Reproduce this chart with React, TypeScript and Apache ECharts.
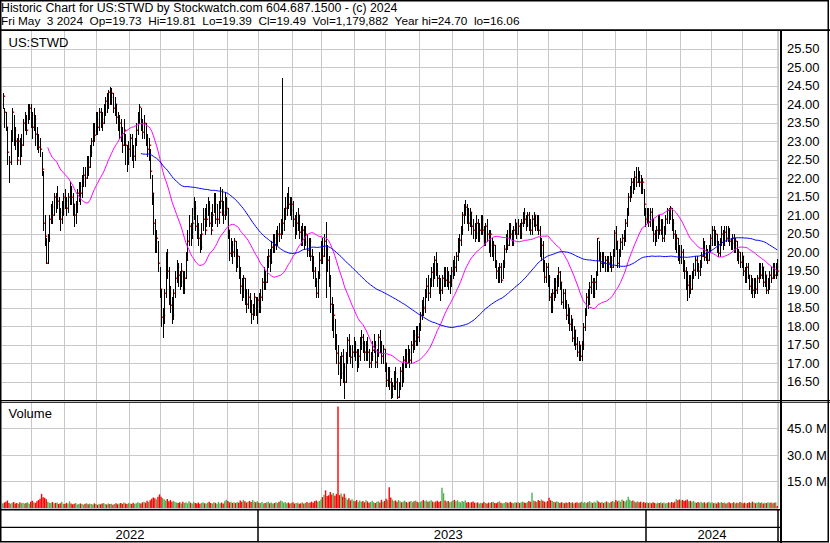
import React, { useEffect, useRef } from "react";
import * as echarts from "echarts";

// ---- Daily bars (May 2022 – May 3 2024) ----
const high = [
  24.3, 23.9, 23.8, 23.4, 22.6, 23.3, 23.9, 23.7, 23.4, 23.1,
  23.2, 23.1, 23.2, 23.6, 23.8, 23.7, 24.0, 24.0, 24.0, 23.8,
  23.9, 23.7, 23.4, 23.2, 23.1, 22.7, 22.2, 21.0, 20.4, 20.5,
  21.0, 21.3, 21.4, 21.6, 21.6, 21.8, 21.5, 21.2, 21.4, 21.6,
  21.7, 21.5, 21.6, 21.9, 21.8, 21.6, 21.3, 21.4, 21.7, 21.9,
  21.9, 22.1, 22.3, 22.3, 22.6, 22.6, 22.9, 23.1, 23.5, 23.5,
  23.8, 23.8, 23.9, 23.9, 23.8, 24.0, 24.2, 24.3, 24.4, 24.48,
  24.45, 24.3, 24.2, 24.0, 23.8, 23.7, 23.6, 23.4, 23.6, 23.2,
  22.9, 23.0, 23.2, 23.2, 22.9, 23.1, 23.5, 23.8, 24.0, 23.9,
  23.6, 23.7, 23.5, 23.2, 23.1, 22.8, 22.1, 21.6, 20.9, 20.6,
  20.3, 19.6, 19.0, 18.5, 19.0, 20.0, 20.1, 19.6, 19.1, 18.8,
  19.0, 19.5, 19.8, 19.7, 19.5, 19.7, 19.5, 19.5, 20.0, 20.6,
  21.0, 20.8, 21.2, 21.5, 21.4, 21.0, 20.8, 20.5, 20.8, 21.2,
  21.2, 21.3, 21.5, 21.4, 21.1, 21.3, 21.6, 21.6, 21.3, 21.4,
  21.77, 21.7, 21.4, 21.6, 21.5, 21.2, 20.6, 20.4, 20.3, 20.4,
  20.3, 20.1, 19.9, 19.6, 19.3, 19.4, 19.3, 19.0, 19.0, 18.9,
  18.7, 18.6, 18.9, 18.8, 18.8, 18.9, 19.0, 19.3, 19.6, 19.5,
  19.9, 20.1, 20.1, 20.3, 20.5, 20.5, 20.6, 20.7, 20.8, 20.9,
  24.7, 21.2, 21.5, 21.6, 21.77, 21.5, 21.5, 21.4, 21.0, 21.1,
  21.2, 21.0, 20.7, 20.8, 20.7, 20.7, 20.5, 20.4, 20.4, 20.1,
  19.9, 19.6, 19.3, 19.5, 20.0, 20.3, 20.4, 20.5, 20.83, 20.2,
  19.9, 19.4, 18.8, 18.6, 18.2, 17.8, 17.5, 17.2, 17.3, 17.4,
  17.0, 17.3, 17.7, 17.8, 17.5, 17.5, 17.7, 17.6, 17.4, 17.4,
  17.7, 17.9, 17.8, 17.6, 17.6, 17.7, 17.4, 17.3, 17.6, 17.8,
  17.6, 17.4, 17.8, 17.9, 17.6, 17.5, 17.4, 17.0, 16.9, 16.9,
  16.6, 16.5, 16.8, 16.9, 16.6, 16.5, 16.9, 17.0, 17.2, 17.4,
  17.4, 17.5, 17.4, 17.6, 17.9, 17.9, 18.0, 18.0, 18.1, 18.4,
  18.7, 18.8, 19.0, 19.3, 19.4, 19.3, 19.6, 19.7, 19.9, 20.0,
  19.7, 19.4, 19.3, 19.4, 19.6, 19.6, 19.6, 19.5, 19.4, 19.6,
  19.8, 19.9, 20.0, 20.4, 20.5, 20.7, 21.1, 21.3, 21.41, 21.3,
  21.2, 21.2, 21.1, 20.9, 20.8, 21.0, 20.9, 20.8, 21.0, 21.0,
  20.7, 20.8, 20.9, 20.6, 20.6, 20.4, 20.3, 20.2, 19.8, 19.6,
  19.7, 19.7, 19.8, 20.2, 20.5, 20.6, 20.8, 20.8, 20.6, 20.7,
  20.9, 20.8, 20.9, 20.8, 20.9, 21.1, 21.2, 21.0, 21.1, 21.1,
  20.9, 21.0, 21.1, 21.0, 21.0, 21.0, 20.7, 20.4, 20.3, 19.8,
  19.7, 19.7, 19.4, 18.9, 19.0, 19.3, 19.3, 19.4, 19.6, 19.5,
  19.2, 19.0, 19.0, 18.7, 18.6, 18.5, 18.3, 18.2, 18.0, 17.9,
  17.7, 17.6, 17.5, 17.6, 18.1, 18.5, 18.9, 19.0, 19.2, 19.4,
  19.3, 19.3, 19.5, 20.4, 20.3, 20.0, 20.0, 20.0, 19.9, 19.9,
  19.9, 20.0, 19.9, 20.1, 20.6, 20.7, 20.3, 20.1, 20.4, 20.5,
  20.6, 20.9, 21.2, 21.6, 21.8, 22.0, 22.0, 22.2, 22.31, 22.3,
  22.2, 22.1, 22.0, 21.7, 21.2, 21.2, 21.2, 21.2, 21.2, 20.9,
  20.6, 20.7, 21.0, 21.0, 20.9, 20.9, 20.7, 21.0, 21.2, 21.2,
  21.25, 21.2, 20.9, 20.6, 20.5, 20.4, 20.2, 20.2, 20.1, 19.8,
  19.6, 19.5, 19.4, 19.4, 19.5, 19.7, 19.9, 19.9, 19.7, 19.8,
  20.0, 20.4, 20.3, 20.2, 20.1, 20.2, 20.5, 20.7, 20.7, 20.6,
  20.5, 20.3, 20.4, 20.7, 20.6, 20.7, 20.7, 20.7, 20.65, 20.4,
  20.5, 20.5, 20.4, 20.3, 20.1, 20.0, 20.0, 19.9, 19.6, 19.7,
  19.7, 19.4, 19.4, 19.3, 19.3, 19.3, 19.4, 19.7, 19.7, 19.7,
  19.6, 19.5, 19.4, 19.3, 19.5, 19.6, 19.7, 19.7, 19.7, 19.81,
];

const low = [
  23.9, 23.4, 23.3, 22.4, 21.9, 22.4, 23.0, 22.9, 22.8, 22.4,
  22.6, 22.4, 22.6, 22.9, 23.3, 23.2, 23.5, 23.6, 23.4, 23.1,
  23.3, 22.9, 22.8, 22.7, 22.6, 22.1, 20.6, 20.2, 19.7, 19.7,
  20.3, 20.8, 20.8, 21.0, 21.1, 21.2, 20.9, 20.6, 20.8, 21.0,
  21.2, 21.0, 21.1, 21.3, 21.3, 21.0, 20.7, 20.8, 21.1, 21.4,
  21.3, 21.5, 21.8, 21.8, 22.0, 22.1, 22.3, 22.6, 22.9, 23.0,
  23.2, 23.2, 23.3, 23.4, 23.3, 23.5, 23.7, 23.8, 23.9, 24.0,
  24.0, 23.8, 23.7, 23.5, 23.3, 23.1, 23.0, 22.7, 22.9, 22.4,
  22.2, 22.4, 22.6, 22.5, 22.3, 22.5, 22.9, 23.2, 23.5, 23.3,
  23.1, 23.1, 22.9, 22.6, 22.5, 22.0, 21.3, 20.5, 20.0, 20.0,
  19.5, 18.8, 18.0, 17.7, 18.1, 18.8, 19.3, 18.6, 18.4, 18.1,
  18.2, 18.8, 19.2, 19.1, 19.0, 19.1, 18.9, 18.9, 19.3, 19.8,
  20.2, 20.2, 20.4, 20.9, 20.6, 20.4, 20.2, 20.0, 20.1, 20.6,
  20.5, 20.7, 21.0, 20.7, 20.5, 20.7, 21.1, 20.8, 20.7, 20.8,
  21.2, 21.0, 20.8, 20.9, 21.0, 20.4, 19.8, 19.9, 19.7, 19.9,
  19.5, 19.6, 19.3, 18.9, 18.7, 18.8, 18.6, 18.4, 18.5, 18.4,
  18.1, 18.2, 18.3, 18.3, 18.1, 18.4, 18.4, 18.7, 19.0, 19.0,
  19.2, 19.6, 19.5, 19.7, 20.0, 20.0, 20.1, 20.2, 20.3, 20.4,
  20.5, 20.6, 20.9, 21.0, 21.2, 21.0, 20.9, 20.7, 20.4, 20.5,
  20.6, 20.4, 20.2, 20.2, 20.1, 20.2, 19.9, 19.9, 19.8, 19.5,
  19.3, 19.1, 18.8, 18.8, 19.3, 19.7, 19.7, 19.9, 18.8, 19.5,
  19.1, 18.4, 17.9, 17.7, 17.4, 17.0, 16.7, 16.41, 16.6, 16.5,
  16.07, 16.5, 17.0, 17.2, 17.0, 16.9, 17.2, 17.1, 16.8, 16.9,
  17.1, 17.4, 17.3, 17.1, 17.1, 17.1, 16.9, 16.9, 17.1, 17.3,
  16.9, 16.9, 17.2, 17.3, 17.0, 17.0, 16.8, 16.4, 16.4, 16.3,
  16.06, 16.1, 16.3, 16.3, 16.06, 16.1, 16.3, 16.4, 16.5, 16.9,
  16.9, 17.0, 16.9, 17.0, 17.3, 17.4, 17.5, 17.5, 17.6, 17.9,
  18.2, 18.3, 18.4, 18.8, 18.7, 18.8, 19.1, 19.1, 19.3, 19.4,
  19.1, 18.9, 18.7, 18.9, 19.1, 19.1, 19.1, 19.0, 18.9, 19.1,
  19.3, 19.4, 19.5, 19.8, 20.0, 20.2, 20.5, 20.8, 21.0, 20.8,
  20.6, 20.7, 20.5, 20.4, 20.3, 20.4, 20.3, 20.3, 20.5, 20.5,
  20.2, 20.2, 20.3, 20.0, 19.9, 19.9, 19.8, 19.6, 19.3, 19.2,
  19.2, 19.2, 19.3, 19.6, 20.0, 20.1, 20.2, 20.4, 20.2, 20.2,
  20.5, 20.4, 20.5, 20.4, 20.4, 20.7, 20.8, 20.6, 20.7, 20.6,
  20.5, 20.5, 20.7, 20.6, 20.6, 20.5, 19.9, 19.8, 19.5, 19.2,
  19.2, 19.1, 18.7, 18.4, 18.4, 18.7, 18.8, 18.9, 19.1, 19.0,
  18.6, 18.5, 18.5, 18.2, 18.1, 17.9, 17.9, 17.6, 17.5, 17.4,
  17.2, 17.1, 17.1, 17.1, 17.4, 17.9, 18.3, 18.5, 18.6, 18.9,
  18.8, 18.8, 19.0, 19.4, 19.8, 19.5, 19.6, 19.6, 19.5, 19.5,
  19.5, 19.6, 19.5, 19.6, 19.9, 20.1, 19.6, 19.6, 19.9, 20.1,
  20.2, 20.3, 20.7, 21.0, 21.4, 21.5, 21.6, 21.7, 21.8, 21.9,
  21.8, 21.6, 21.6, 21.0, 20.7, 20.8, 20.7, 20.7, 20.6, 20.3,
  20.2, 20.3, 20.4, 20.5, 20.5, 20.3, 20.3, 20.5, 20.8, 20.8,
  20.9, 20.6, 20.4, 20.1, 20.0, 19.8, 19.7, 19.7, 19.5, 19.3,
  19.0, 18.71, 18.8, 18.9, 19.0, 19.3, 19.4, 19.5, 19.3, 19.4,
  19.6, 19.9, 19.8, 19.8, 19.7, 19.8, 20.0, 20.2, 20.2, 20.2,
  20.0, 19.9, 19.9, 20.2, 20.1, 20.2, 20.3, 20.3, 20.2, 20.1,
  20.1, 20.0, 20.0, 19.8, 19.7, 19.6, 19.6, 19.4, 19.2, 19.2,
  19.3, 19.0, 18.9, 18.8, 18.8, 18.9, 18.9, 19.2, 19.3, 19.3,
  19.1, 19.1, 18.9, 18.9, 19.0, 19.2, 19.3, 19.3, 19.3, 19.39,
];

const close = [
  24.23, 23.8, 23.4, 22.7, 22.45, 23.0, 23.8, 23.3, 23.0, 22.5,
  23.0, 22.6, 22.9, 23.5, 23.6, 23.3, 23.8, 23.9, 23.7, 23.4,
  23.6, 23.2, 23.0, 22.85, 22.8, 22.26, 20.8, 20.45, 19.72, 20.4,
  20.9, 21.23, 21.0, 21.5, 21.3, 21.4, 21.1, 20.9, 21.2, 21.5,
  21.4, 21.2, 21.5, 21.7, 21.5, 21.3, 21.0, 21.3, 21.6, 21.8,
  21.6, 21.9, 22.1, 22.0, 22.44, 22.3, 22.72, 23.0, 23.28, 23.17,
  23.6, 23.4, 23.8, 23.6, 23.5, 23.8, 24.1, 24.0, 24.34, 24.2,
  24.3, 23.9, 24.0, 23.67, 23.4, 23.5, 23.2, 22.9, 23.3, 22.9,
  22.45, 22.8, 23.1, 22.7, 22.6, 23.0, 23.3, 23.6, 23.92, 23.5,
  23.26, 23.5, 23.1, 22.8, 22.9, 22.2, 21.6, 20.8, 20.29, 20.4,
  19.7, 19.0, 18.24, 18.3, 18.9, 19.97, 19.5, 18.9, 18.58, 18.3,
  18.9, 19.3, 19.6, 19.4, 19.2, 19.5, 19.0, 19.3, 19.8, 20.3,
  20.7, 20.4, 20.8, 21.2, 20.7, 20.6, 20.4, 20.15, 20.5, 20.9,
  20.6, 20.9, 21.2, 20.8, 20.6, 21.0, 21.3, 20.9, 20.9, 21.1,
  21.4, 21.1, 21.0, 21.2, 21.2, 20.6, 19.97, 20.2, 20.0, 20.3,
  19.63, 19.9, 19.5, 19.1, 18.98, 19.3, 18.9, 18.6, 18.8, 18.58,
  18.33, 18.5, 18.8, 18.4, 18.7, 18.53, 18.8, 19.2, 19.38, 19.2,
  19.77, 19.9, 19.74, 20.15, 20.4, 20.2, 20.44, 20.5, 20.49, 20.6,
  20.8, 21.0, 21.2, 21.5, 21.3, 21.14, 21.3, 20.9, 20.6, 20.8,
  21.0, 20.55, 20.35, 20.6, 20.29, 20.5, 20.07, 20.3, 19.9, 19.7,
  19.5, 19.2, 18.9, 19.4, 19.8, 20.1, 19.9, 20.3, 20.1, 19.8,
  19.3, 18.6, 18.23, 18.3, 17.6, 17.29, 17.0, 16.73, 17.2, 16.9,
  16.5, 17.1, 17.63, 17.4, 17.18, 17.3, 17.52, 17.3, 17.0, 17.2,
  17.54, 17.72, 17.5, 17.3, 17.5, 17.3, 17.0, 17.2, 17.36, 17.5,
  17.04, 17.3, 17.72, 17.5, 17.2, 17.4, 17.0, 16.55, 16.8, 16.5,
  16.17, 16.4, 16.73, 16.5, 16.1, 16.4, 16.8, 16.6, 17.1, 17.25,
  17.0, 17.3, 17.1, 17.5, 17.76, 17.6, 17.8, 17.7, 18.0, 18.3,
  18.55, 18.5, 18.9, 19.1, 18.9, 19.25, 19.47, 19.3, 19.8, 19.5,
  19.3, 19.0, 18.98, 19.3, 19.5, 19.25, 19.4, 19.2, 19.25, 19.5,
  19.71, 19.6, 19.9, 20.3, 20.33, 20.6, 21.0, 21.15, 21.23, 21.0,
  20.8, 21.1, 20.7, 20.6, 20.52, 20.8, 20.4, 20.6, 20.9, 20.6,
  20.3, 20.7, 20.5, 20.2, 20.5, 19.98, 20.2, 19.71, 19.5, 19.34,
  19.6, 19.25, 19.7, 20.1, 20.4, 20.2, 20.74, 20.5, 20.24, 20.6,
  20.8, 20.5, 20.7, 20.51, 20.8, 21.07, 20.9, 20.74, 21.0, 20.8,
  20.6, 20.9, 21.0, 20.74, 20.9, 20.6, 19.97, 20.2, 19.7, 19.34,
  19.6, 19.34, 18.8, 18.53, 18.9, 19.2, 18.98, 19.3, 19.46, 19.2,
  18.67, 18.9, 18.6, 18.3, 18.5, 18.06, 18.2, 17.68, 17.9, 17.52,
  17.3, 17.5, 17.2, 17.52, 17.99, 18.4, 18.8, 18.6, 19.06, 19.2,
  18.9, 19.2, 19.4, 20.38, 19.9, 19.7, 19.9, 19.7, 19.8, 19.6,
  19.7, 19.8, 19.6, 20.0, 20.51, 20.3, 19.7, 20.0, 20.29, 20.4,
  20.3, 20.8, 21.07, 21.5, 21.62, 21.9, 21.7, 22.04, 21.9, 22.1,
  21.9, 21.7, 21.9, 21.3, 20.9, 21.0, 20.83, 21.1, 20.87, 20.5,
  20.3, 20.6, 20.87, 20.6, 20.8, 20.4, 20.6, 20.9, 21.15, 21.0,
  21.19, 20.8, 20.5, 20.24, 20.4, 20.0, 19.88, 20.0, 19.7, 19.5,
  19.2, 19.12, 19.3, 19.0, 19.4, 19.52, 19.8, 19.6, 19.5, 19.7,
  19.9, 20.29, 19.88, 20.0, 19.8, 20.1, 20.4, 20.6, 20.3, 20.5,
  20.2, 19.97, 20.3, 20.5, 20.2, 20.56, 20.4, 20.6, 20.3, 20.24,
  20.4, 20.2, 20.3, 19.9, 20.0, 19.74, 19.9, 19.5, 19.34, 19.6,
  19.4, 19.1, 19.25, 18.98, 19.2, 19.0, 19.3, 19.6, 19.4, 19.6,
  19.2, 19.4, 18.98, 19.1, 19.4, 19.3, 19.6, 19.38, 19.6, 19.49,
];

// volume in millions of shares
const volume = [
  2.5, 3.1, 3.6, 4.2, 2.8, 2.4, 3.0, 3.4, 2.6, 2.9,
  2.2, 3.3, 2.7, 3.0, 2.5, 2.8, 3.2, 2.4, 3.5, 4.1,
  3.2, 2.9, 3.8, 4.5, 5.2, 8.0, 6.1, 5.8, 4.9, 3.6,
  3.0, 2.8, 3.4, 2.6, 2.9, 3.1, 2.3, 2.7, 3.5, 2.4,
  2.2, 2.9, 2.5, 3.8, 2.6, 2.1, 2.4, 2.8, 2.0, 2.3,
  2.6, 2.2, 1.9, 2.4, 2.7, 2.1, 2.5, 2.3, 2.0, 2.6,
  2.2, 1.8, 2.4, 2.1, 2.5, 2.8, 2.3, 2.0, 2.6, 2.2,
  2.4, 1.9, 2.3, 2.7, 2.1, 2.5, 2.9, 2.4, 3.1, 2.6,
  2.2, 2.8, 2.5, 2.3, 3.0, 2.4, 2.7, 3.3, 2.9, 2.6,
  3.2, 3.6, 3.0, 4.1, 3.5, 4.4, 5.2, 6.0, 5.5, 4.8,
  6.3, 7.7, 6.4, 5.6, 4.9, 4.2, 5.1, 3.8, 4.5, 3.6,
  4.0, 3.4, 3.1, 2.8, 3.3, 2.6, 3.5, 2.9, 3.2, 2.7,
  3.8, 3.0, 2.5, 3.4, 2.8, 2.6, 3.1, 2.4, 2.9, 3.3,
  2.7, 2.5, 3.0, 3.6, 2.8, 2.6, 3.2, 2.9, 2.4, 3.5,
  2.7, 3.1, 2.6, 3.8, 4.6, 3.9, 3.2, 3.6, 2.9, 3.3,
  2.8, 3.4, 3.0, 4.2, 3.5, 4.6, 3.8, 3.1, 3.6, 4.0,
  3.4, 4.5, 3.7, 3.2, 3.9, 3.0, 2.8, 3.4, 2.6, 2.9,
  3.2, 3.6, 2.7, 3.1, 2.5, 2.8, 3.3, 2.9, 3.5, 4.2,
  3.8, 3.0, 3.4, 2.7, 3.1, 2.6, 2.9, 3.3, 2.5, 2.8,
  3.0, 2.4, 2.7, 3.2, 2.6, 2.9, 3.4, 2.8, 3.1, 3.6,
  3.0, 3.9, 4.3, 3.5, 4.0, 4.8, 6.2, 7.5, 10.0, 6.8,
  7.2, 9.0, 7.6, 8.5, 6.9, 8.0, 57.5, 7.3, 8.2, 6.4,
  8.0, 5.9, 4.7, 5.5, 4.3, 5.0, 4.1, 3.8, 4.5, 3.6,
  4.2, 3.5, 3.9, 3.2, 4.4, 3.7, 3.0, 3.4, 4.1, 3.3,
  2.9, 3.6, 3.8, 3.1, 4.6, 3.5, 4.0, 5.2, 4.4, 11.8,
  6.0, 4.8, 3.9, 4.3, 3.6, 4.5, 3.8, 3.2, 3.7, 4.1,
  3.4, 3.0, 3.6, 3.9, 3.3, 3.8, 4.2, 3.5, 3.1, 3.6,
  4.0, 4.6, 3.8, 4.3, 3.5, 3.9, 4.4, 3.6, 3.2, 3.7,
  4.1, 3.4, 3.9, 11.5, 8.4, 4.2, 3.6, 3.9, 3.3, 3.7,
  4.1, 4.6, 3.8, 4.4, 3.5, 3.2, 3.9, 3.6, 4.2, 3.1,
  3.4, 2.9, 3.3, 3.7, 3.0, 2.8, 3.2, 2.6, 3.0, 2.7,
  3.4, 2.9, 2.5, 3.1, 2.8, 3.3, 3.6, 2.9, 2.7, 3.2,
  3.8, 3.0, 2.6, 2.9, 3.4, 3.1, 2.8, 3.5, 3.0, 2.7,
  3.3, 3.0, 3.4, 2.8, 3.2, 3.6, 3.1, 2.9, 3.3, 4.0,
  3.5, 8.6, 4.2, 3.8, 3.4, 4.5, 3.9, 4.8, 4.1, 3.6,
  3.3, 3.9, 5.8, 4.4, 4.0, 3.6, 3.2, 3.8, 3.4, 2.9,
  3.3, 3.0, 2.7, 3.1, 2.8, 3.4, 2.9, 3.2, 2.6, 3.0,
  3.3, 2.8, 3.1, 3.6, 3.0, 3.4, 2.8, 3.2, 3.9, 3.3,
  2.9, 3.5, 3.1, 4.2, 3.6, 3.0, 3.4, 2.8, 3.2, 3.7,
  3.3, 2.9, 3.6, 4.0, 3.4, 4.5, 3.8, 4.2, 3.6, 4.8,
  4.1, 3.7, 4.4, 6.3, 4.6, 3.9, 4.3, 3.7, 3.3, 3.8,
  3.2, 3.6, 3.0, 3.4, 2.9, 3.3, 2.8, 3.1, 2.7, 3.2,
  2.9, 2.6, 3.0, 2.8, 3.3, 2.7, 3.1, 2.6, 2.9, 3.2,
  2.8, 3.4, 3.0, 3.6, 5.0, 4.4, 4.8, 4.2, 4.6, 3.9,
  4.3, 4.8, 3.8, 4.1, 3.6, 4.0, 3.3, 2.9, 3.4, 3.0,
  3.6, 2.8, 3.2, 2.6, 3.1, 3.5, 2.9, 3.3, 2.7, 3.0,
  2.5, 3.2, 2.8, 3.4, 2.9, 3.1, 2.6, 3.0, 3.3, 2.7,
  2.9, 3.2, 2.6, 3.0, 2.8, 3.4, 3.1, 2.7, 3.0, 2.5,
  2.9, 3.3, 2.8, 3.6, 3.1, 2.7, 3.0, 3.4, 2.9, 3.2,
  2.6, 3.0, 2.8, 3.3, 2.9, 3.1, 2.7, 3.0, 3.2, 1.18,
];

// bar index where each month begins (vertical grid lines)
const monthStarts = [19, 40, 61, 82, 102, 123, 145, 165, 187, 206, 227, 247, 269, 290, 310, 332, 352, 374, 395, 415, 437, 457, 477];
// bar index where each year begins, and where each year label sits
const yearStarts = [165, 415];
const yearLabels = ["2022", "2023", "2024"];
const yearLabelAt = [82, 287, 457];

const MA_SHORT = 30;
const MA_LONG = 90;

const headerLine1 = "Historic Chart for US:STWD by Stockwatch.com 604.687.1500 - (c) 2024";
const headerLine2 = "Fri May  3 2024  Op=19.73  Hi=19.81  Lo=19.39  Cl=19.49  Vol=1,179,882  Year hi=24.70  lo=16.06";

const FONT = "'Liberation Sans', Arial, sans-serif";
const GRID_COLOR = "#c8c8c8";

function movingAverage(values: number[], n: number): (number | null)[] {
  const out: (number | null)[] = [];
  let sum = 0;
  for (let i = 0; i < values.length; i++) {
    sum += values[i];
    if (i >= n) sum -= values[i - n];
    out.push(i >= n - 1 ? +(sum / n).toFixed(3) : null);
  }
  return out;
}

export default function App() {
  const ref = useRef<HTMLDivElement>(null);

  useEffect(() => {
    document.body.style.margin = "0";
    if (!ref.current) return;
    const chart = echarts.init(ref.current, undefined, { renderer: "svg" });

    const cats = close.map((_, i) => String(i));
    const monthSet = new Set(monthStarts);
    const yearSet = new Set(yearStarts);
    const yearLabelMap = new Map<number, string>();
    yearLabelAt.forEach((idx, k) => yearLabelMap.set(idx, yearLabels[k]));

    const ohlc = close.map((c, i) => [i, high[i], low[i], c]);
    const vol = volume.map((v, i) => [i, v, i > 0 && close[i] < close[i - 1] ? 0 : 1]);
    const maS = movingAverage(close, MA_SHORT);
    const maL = movingAverage(close, MA_LONG);

    const catAxisBase = {
      type: "category",
      data: cats,
      boundaryGap: true,
      axisLine: { show: false },
      axisTick: { show: false },
      axisLabel: { show: false },
    };

    const option: any = {
      animation: false,
      backgroundColor: "#ffffff",
      grid: [
        { left: 2, top: 30.3, width: 776, height: 370 },
        { left: 2, top: 402, width: 776, height: 106 },
        { left: 2, top: 510, width: 776, height: 31 },
      ],
      xAxis: [
        {
          ...catAxisBase,
          gridIndex: 0,
          splitLine: { show: true, interval: (idx: number) => monthSet.has(idx), lineStyle: { color: GRID_COLOR, width: 1 } },
        },
        {
          ...catAxisBase,
          gridIndex: 1,
          splitLine: { show: true, interval: (idx: number) => monthSet.has(idx), lineStyle: { color: GRID_COLOR, width: 1 } },
        },
        {
          ...catAxisBase,
          gridIndex: 2,
          axisTick: {
            show: true,
            inside: true,
            length: 31,
            interval: (idx: number) => yearSet.has(idx),
            lineStyle: { color: "#000", width: 1.5 },
          },
          axisLabel: {
            show: true,
            inside: true,
            margin: 0,
            interval: (idx: number) => yearLabelMap.has(idx),
            formatter: (_v: string, idx: number) => yearLabelMap.get(idx) || "",
            fontSize: 13,
            color: "#000",
            fontFamily: FONT,
          },
          splitLine: { show: false },
        },
      ],
      yAxis: [
        {
          gridIndex: 0,
          type: "value",
          position: "right",
          min: 16,
          max: 26,
          interval: 0.5,
          axisLine: { show: false },
          axisTick: { show: false },
          axisLabel: {
            showMinLabel: false,
            showMaxLabel: false,
            margin: 9,
            formatter: (v: number) => v.toFixed(2),
            fontSize: 13,
            color: "#000",
            fontFamily: FONT,
          },
          splitLine: { show: true, lineStyle: { color: GRID_COLOR, width: 1 } },
        },
        {
          gridIndex: 1,
          type: "value",
          position: "right",
          min: 0,
          max: 60,
          interval: 15,
          axisLine: { show: false },
          axisTick: { show: false },
          axisLabel: {
            showMinLabel: false,
            showMaxLabel: false,
            margin: 9,
            formatter: (v: number) => v.toFixed(1) + " M",
            fontSize: 13,
            color: "#000",
            fontFamily: FONT,
          },
          splitLine: { show: true, lineStyle: { color: GRID_COLOR, width: 1 } },
        },
        { gridIndex: 2, type: "value", show: false, min: 0, max: 1 },
      ],
      series: [
        {
          type: "custom",
          name: "price",
          xAxisIndex: 0,
          yAxisIndex: 0,
          data: ohlc,
          encode: { x: 0, y: [1, 2, 3] },
          renderItem: (_params: any, api: any) => {
            const i = api.value(0);
            const h = api.coord([i, api.value(1)]);
            const l = api.coord([i, api.value(2)]);
            const c = api.coord([i, api.value(3)]);
            const xs = Math.round(h[0]) + 0.5; // crisp 1px bar
            return {
              type: "group",
              children: [
                {
                  type: "line",
                  shape: { x1: xs, y1: Math.round(h[1]), x2: xs, y2: Math.round(l[1]) + 1 },
                  style: { stroke: "#000", lineWidth: 1 },
                },
                {
                  type: "rect",
                  shape: { x: xs + 0.5, y: Math.round(c[1]) - 0.5, width: 1.2, height: 1.5 },
                  style: { fill: "#ff0000" },
                },
              ],
            };
          },
          z: 2,
        },
        {
          type: "line",
          name: "MA short",
          xAxisIndex: 0,
          yAxisIndex: 0,
          data: maS,
          showSymbol: false,
          symbol: "none",
          lineStyle: { color: "#ff00ff", width: 1 },
          z: 3,
        },
        {
          type: "line",
          name: "MA long",
          xAxisIndex: 0,
          yAxisIndex: 0,
          data: maL,
          showSymbol: false,
          symbol: "none",
          lineStyle: { color: "#0000ff", width: 1 },
          z: 3,
        },
        {
          type: "custom",
          name: "volume",
          xAxisIndex: 1,
          yAxisIndex: 1,
          data: vol,
          encode: { x: 0, y: 1 },
          renderItem: (params: any, api: any) => {
            const i = api.value(0);
            const top = api.coord([i, api.value(1)]);
            const bottom = params.coordSys.y + params.coordSys.height;
            const w = api.size([1, 0])[0] * 0.9;
            return {
              type: "rect",
              shape: { x: top[0] - w / 2, y: top[1], width: w, height: bottom - top[1] },
              style: { fill: api.value(2) === 1 ? "#4db04d" : "#ff0000" },
            };
          },
          z: 2,
        },
      ],
      graphic: [
        { type: "rect", z: 100, shape: { x: 0.75, y: 0.75, width: 827.5, height: 541 }, style: { fill: "none", stroke: "#000", lineWidth: 1.5 } },
        { type: "rect", z: 100, shape: { x: 0, y: 29.3, width: 830, height: 1.8 }, style: { fill: "#000" } },
        { type: "rect", z: 100, shape: { x: 0, y: 400, width: 830, height: 1 }, style: { fill: "#000" } },
        { type: "rect", z: 100, shape: { x: 0, y: 401.8, width: 830, height: 1 }, style: { fill: "#000" } },
        { type: "rect", z: 100, shape: { x: 0, y: 509, width: 781, height: 1.5 }, style: { fill: "#000" } },
        { type: "rect", z: 100, shape: { x: 0, y: 526.7, width: 781, height: 1.2 }, style: { fill: "#000" } },
        { type: "rect", z: 100, shape: { x: 780, y: 30, width: 2, height: 513 }, style: { fill: "#000" } },
        { type: "line", z: 1, shape: { x1: 777.7, y1: 31, x2: 777.7, y2: 400 }, style: { stroke: GRID_COLOR, lineWidth: 1 } },
        { type: "line", z: 1, shape: { x1: 777.7, y1: 402, x2: 777.7, y2: 509 }, style: { stroke: GRID_COLOR, lineWidth: 1 } },
        { type: "text", z: 101, x: 1, y: 7.5, style: { text: headerLine1, fontSize: 12.3, fontFamily: FONT, fill: "#000", verticalAlign: "middle" } },
        { type: "text", z: 101, x: 1, y: 21.3, style: { text: headerLine2, fontSize: 11.8, fontFamily: FONT, fill: "#000", verticalAlign: "middle" } },
        { type: "text", z: 101, x: 8.5, y: 42, style: { text: "US:STWD", fontSize: 13, fontFamily: FONT, fill: "#000", verticalAlign: "middle" } },
        { type: "text", z: 101, x: 8.5, y: 413, style: { text: "Volume", fontSize: 13, fontFamily: FONT, fill: "#000", verticalAlign: "middle" } },
      ],
    };

    chart.setOption(option);
    return () => chart.dispose();
  }, []);

  return <div ref={ref} style={{ width: 830, height: 543 }} />;
}
